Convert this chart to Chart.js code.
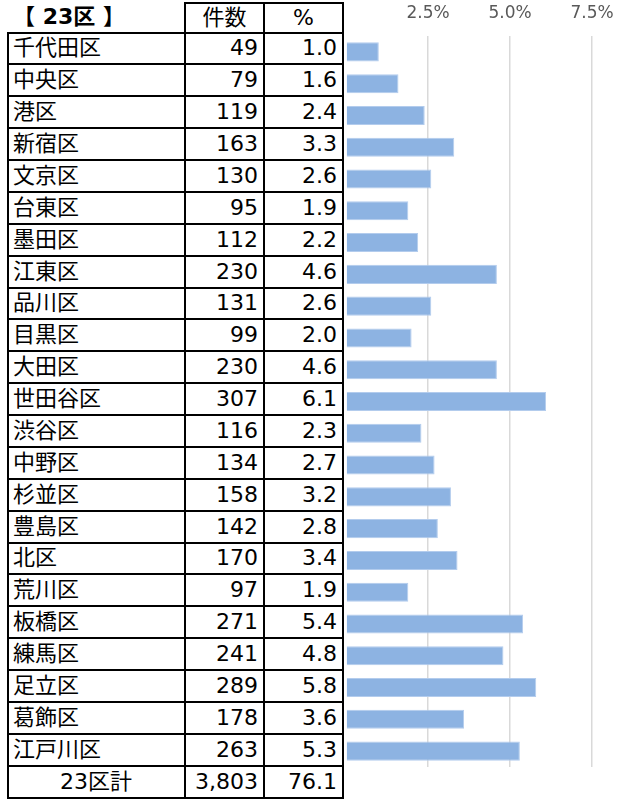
<!DOCTYPE html>
<html>
<head>
<meta charset="utf-8">
<script src="https://cdn.jsdelivr.net/npm/chart.js@4"></script>
<style>
  body { margin: 0; background: #fff; width: 619px; height: 800px; position: relative; overflow: hidden; }
  #tbl { position: absolute; left: 7px; top: 2px; border-collapse: collapse; table-layout: fixed;
         font-family: "DejaVu Sans", "Noto Sans CJK JP", sans-serif; font-size: 22px; color: #000; }
  #tbl tr { height: 31.875px; }
  #tbl tr.head { height: 29.5px; }
  #tbl td { border: 2px solid #000; padding: 0 5px; line-height: 1; white-space: nowrap; }
  #tbl td.name { text-align: left; padding-left: 4px; }
  #tbl td.num { text-align: right; }
  #tbl tr.head td { text-align: center; }
  #tbl tr.head td.title { border-left: none; border-top: none; text-align: left; font-weight: bold; }
  #tbl tr.total td.name { text-align: center; }
  #wrap { position: absolute; left: 340px; top: 0; width: 279px; height: 800px; }
</style>
</head>
<body>
<table id="tbl">
  <colgroup><col style="width:177px"><col style="width:79px"><col style="width:79px"></colgroup>
  <tbody id="tbody"></tbody>
</table>
<div id="wrap"><canvas id="chart"></canvas></div>
<script>
//Set data
var wards = ['千代田区','中央区','港区','新宿区','文京区','台東区','墨田区','江東区','品川区','目黒区','大田区','世田谷区',
    '渋谷区','中野区','杉並区','豊島区','北区','荒川区','板橋区','練馬区','足立区','葛飾区','江戸川区'];
var counts = [49, 79, 119, 163, 130, 95, 112, 230, 131, 99, 230, 307, 116, 134, 158, 142, 170, 97, 271, 241, 289, 178, 263];
var pcts = [1.0, 1.6, 2.4, 3.3, 2.6, 1.9, 2.2, 4.6, 2.6, 2.0, 4.6, 6.1, 2.3, 2.7, 3.2, 2.8, 3.4, 1.9, 5.4, 4.8, 5.8, 3.6, 5.3];
var totalLabel = '23区計';
var totalCount = '3,803';
var totalPct = '76.1';
var tickValues = [2.5, 5.0, 7.5];

//Build table
var tbody = document.getElementById('tbody');
var html = '<tr class="head"><td class="title">【 23区 】</td><td>件数</td><td>%</td></tr>';
for(var i = 0; i < wards.length; i++){
    html += '<tr><td class="name">' + wards[i] + '</td><td class="num">' + counts[i] +
        '</td><td class="num">' + pcts[i].toFixed(1) + '</td></tr>';
}
html += '<tr class="total"><td class="name">' + totalLabel + '</td><td class="num">' + totalCount +
    '</td><td class="num">' + totalPct + '</td></tr>';
tbody.innerHTML = html;

//Get context
var ctx = document.getElementById('chart').getContext('2d');
var chart = new Chart(ctx, {
    type: 'bar',
    data: {
        labels: wards,
        datasets: [{
            data: pcts,
            backgroundColor: '#8db3e2',
            borderColor: '#b3cced',
            borderWidth: 1,
            categoryPercentage: 1,
            barPercentage: 0.6
        }]
    },
    options: {
        indexAxis: 'y',
        responsive: true,
        maintainAspectRatio: false,
        animation: false,
        layout: { padding: { left: 6, right: 27, top: 0, bottom: 33 } },
        plugins: { legend: { display: false }, tooltip: { enabled: false } },
        scales: {
            x: {
                position: 'top',
                min: 0,
                max: 7.5,
                afterBuildTicks: function(axis){
                    axis.ticks = [0].concat(tickValues).map(function(v){ return { value: v }; });
                },
                afterFit: function(axis){
                    axis.height = 36;
                    axis.paddingLeft = 0;
                    axis.paddingRight = 0;
                },
                ticks: {
                    padding: 12,
                    color: '#595959',
                    font: { family: 'DejaVu Sans', size: 17 },
                    callback: function(v){ return v === 0 ? '' : v.toFixed(1) + '%'; }
                },
                grid: {
                    drawTicks: false,
                    lineWidth: 1.5,
                    color: function(c){ return c.tick && c.tick.value === 0 ? 'rgba(0,0,0,0)' : '#d9d9d9'; }
                },
                border: { display: false }
            },
            y: {
                display: false
            }
        }
    }
});
</script>
</body>
</html>
